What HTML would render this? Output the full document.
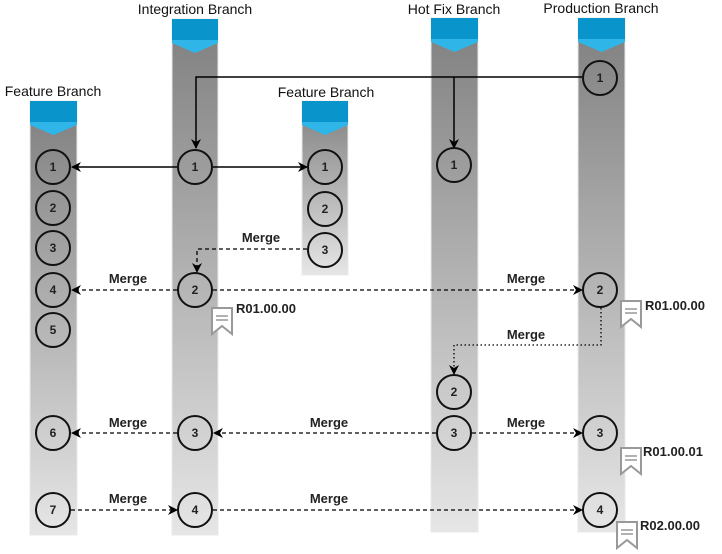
<!DOCTYPE html>
<html><head><meta charset="utf-8"><style>
html,body{margin:0;padding:0;background:#fff;}
svg{display:block;font-family:"Liberation Sans",Arial,sans-serif;}
</style></head><body>
<svg width="722" height="554" viewBox="0 0 722 554" xmlns="http://www.w3.org/2000/svg">
<defs>
<linearGradient id="g" x1="0" y1="0" x2="0" y2="1">
<stop offset="0" stop-color="#7f7f7f"/><stop offset="1" stop-color="#e6e6e6"/>
</linearGradient>
<marker id="b" viewBox="0 0 10 10" refX="9" refY="5" markerWidth="10" markerHeight="10" orient="auto" markerUnits="userSpaceOnUse">
<path d="M0,0 L10,5 L0,10 L3,5 z" fill="#000"/>
</marker>
</defs>
<g stroke="#e8e8e8" stroke-width="1">
<rect x="30" y="101" width="47" height="434" fill="url(#g)"/>
<rect x="172" y="19" width="46" height="516" fill="url(#g)"/>
<rect x="302" y="101" width="46" height="174" fill="url(#g)"/>
<rect x="431" y="18" width="47" height="514" fill="url(#g)"/>
<rect x="578" y="18" width="47" height="514" fill="url(#g)"/>
</g>
<g>
<rect x="30" y="101" width="47" height="22" fill="#0a94cc"/><polygon points="30,122 77,122 77,125 53.5,135 30,125" fill="#2fb5e8"/>
<rect x="172" y="19" width="46" height="22" fill="#0a94cc"/><polygon points="172,40 218,40 218,43 195,53 172,43" fill="#2fb5e8"/>
<rect x="302" y="101" width="46" height="22" fill="#0a94cc"/><polygon points="302,122 348,122 348,125 325,135 302,125" fill="#2fb5e8"/>
<rect x="431" y="18" width="47" height="22" fill="#0a94cc"/><polygon points="431,39 478,39 478,42 454.5,52 431,42" fill="#2fb5e8"/>
<rect x="578" y="18" width="47" height="22" fill="#0a94cc"/><polygon points="578,39 625,39 625,42 601.5,52 578,42" fill="#2fb5e8"/>
</g>
<g font-size="14" fill="#111" text-anchor="middle">
<text x="195" y="14">Integration Branch</text>
<text x="53" y="96">Feature Branch</text>
<text x="326" y="97">Feature Branch</text>
<text x="454" y="14">Hot Fix Branch</text>
<text x="601" y="13">Production Branch</text>
</g>
<g stroke="#000" stroke-width="1.5" fill="none">
<path d="M582,77 H196 V148" marker-end="url(#b)"/>
<path d="M454,77 V148" marker-end="url(#b)"/>
<path d="M177,167 H72" marker-end="url(#b)"/>
<path d="M213,167 H307" marker-end="url(#b)"/>
</g>
<g stroke="#000" stroke-width="1.3" fill="none" stroke-dasharray="4,3">
<path d="M307,249 H197 V272" marker-end="url(#b)"/>
<path d="M177,290 H72" marker-end="url(#b)"/>
<path d="M213,290 H582" marker-end="url(#b)"/>
<path d="M436,433 H214" marker-end="url(#b)"/>
<path d="M472,433 H582" marker-end="url(#b)"/>
<path d="M177,433 H72" marker-end="url(#b)"/>
<path d="M71,510 H177" marker-end="url(#b)"/>
<path d="M213,510 H582" marker-end="url(#b)"/>
</g>
<path d="M601,308 V345 H454 V374" stroke="#000" stroke-width="1.3" fill="none" stroke-dasharray="1.5,2.5" marker-end="url(#b)"/>
<g stroke="#111" stroke-width="2" fill="none">
<circle cx="53" cy="167" r="17"/><circle cx="53" cy="208" r="17"/><circle cx="53" cy="248" r="17"/><circle cx="53" cy="290" r="17"/><circle cx="53" cy="330" r="17"/><circle cx="53" cy="433" r="17"/><circle cx="53" cy="510" r="17"/>
<circle cx="195" cy="167" r="17"/><circle cx="195" cy="290" r="17"/><circle cx="195" cy="433" r="17"/><circle cx="195" cy="510" r="17"/>
<circle cx="325" cy="167" r="17"/><circle cx="325" cy="209" r="17"/><circle cx="325" cy="250" r="17"/>
<circle cx="454" cy="165" r="17"/><circle cx="454" cy="392" r="17"/><circle cx="454" cy="433" r="17"/>
<circle cx="600" cy="78" r="17"/><circle cx="600" cy="290" r="17"/><circle cx="600" cy="433" r="17"/><circle cx="600" cy="510" r="17"/>
</g>
<g font-size="12" font-weight="bold" fill="#222" text-anchor="middle">
<text x="53" y="171">1</text><text x="53" y="212">2</text><text x="53" y="252">3</text><text x="53" y="294">4</text><text x="53" y="334">5</text><text x="53" y="437">6</text><text x="53" y="514">7</text>
<text x="195" y="171">1</text><text x="195" y="294">2</text><text x="195" y="437">3</text><text x="195" y="514">4</text>
<text x="325" y="171">1</text><text x="325" y="213">2</text><text x="325" y="254">3</text>
<text x="454" y="169">1</text><text x="454" y="396">2</text><text x="454" y="437">3</text>
<text x="600" y="82">1</text><text x="600" y="294">2</text><text x="600" y="437">3</text><text x="600" y="514">4</text>
</g>
<g font-size="13" font-weight="bold" fill="#222" text-anchor="middle">
<text x="261" y="242">Merge</text>
<text x="128" y="283">Merge</text>
<text x="526" y="283">Merge</text>
<text x="526" y="339">Merge</text>
<text x="128" y="427">Merge</text>
<text x="329" y="427">Merge</text>
<text x="526" y="427">Merge</text>
<text x="128" y="503">Merge</text>
<text x="329" y="503">Merge</text>
</g>
<g stroke="#999" stroke-width="2" fill="#fff">
<path d="M212,308 H232 V334 L222,326 L212,334 Z"/>
<path d="M621,301 H641 V327 L631,319 L621,327 Z"/>
<path d="M621,448 H641 V474 L631,466 L621,474 Z"/>
<path d="M617,522 H637 V548 L627,540 L617,548 Z"/>
</g>
<g stroke="#999" stroke-width="1.5">
<path d="M216,316 H228 M216,320 H228"/>
<path d="M625,309 H637 M625,313 H637"/>
<path d="M625,456 H637 M625,460 H637"/>
<path d="M621,530 H633 M621,534 H633"/>
</g>
<g font-size="13" font-weight="bold" fill="#222">
<text x="236" y="313">R01.00.00</text>
<text x="645" y="310">R01.00.00</text>
<text x="643" y="456">R01.00.01</text>
<text x="640" y="530">R02.00.00</text>
</g>
</svg>
</body></html>
